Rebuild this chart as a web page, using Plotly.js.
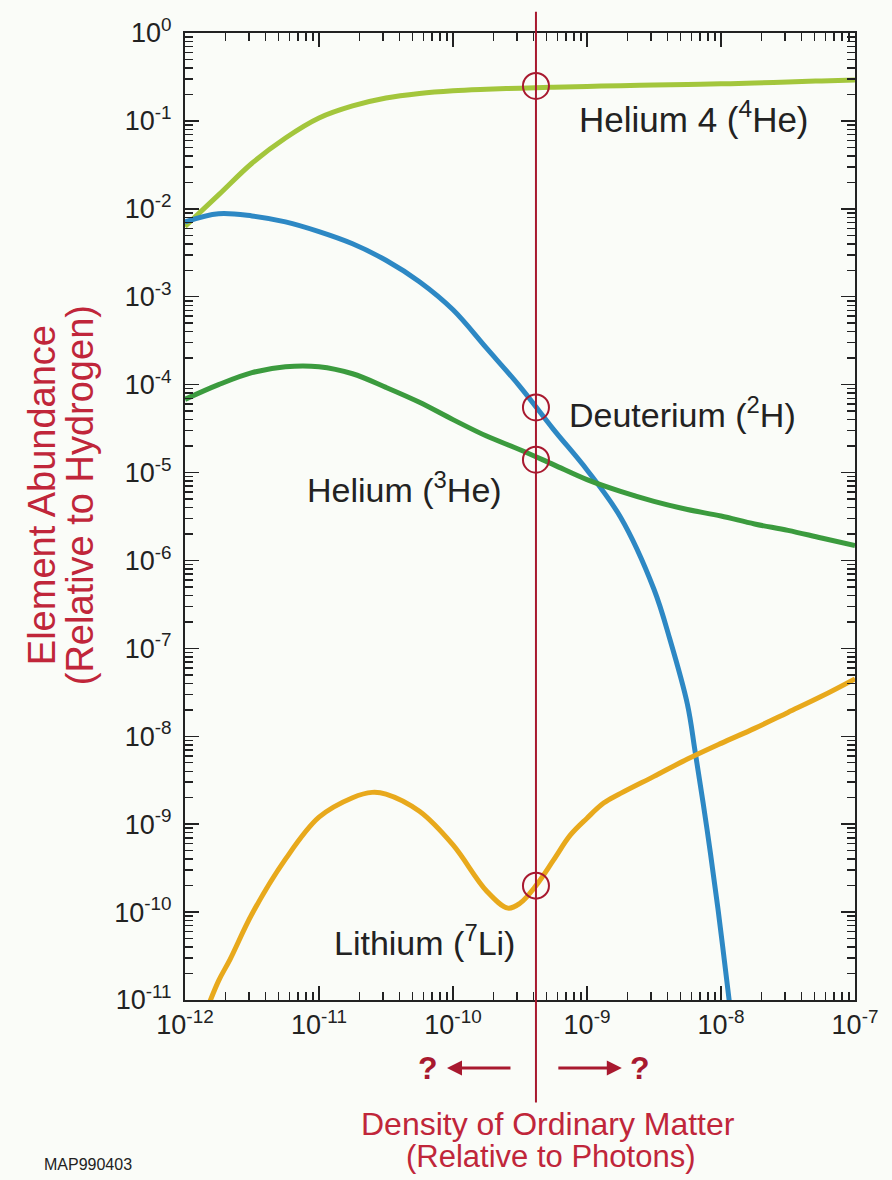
<!DOCTYPE html>
<html>
<head>
<meta charset="utf-8">
<script src="https://cdn.plot.ly/plotly-3.0.1.min.js"></script>
<style>
  html, body { margin: 0; padding: 0; background: #fafcf8; }
  #chart { width: 892px; height: 1180px; }
</style>
</head>
<body>
<div id="chart"></div>
<script>
// ---- Data ----
// Density of ordinary matter (relative to photons), x values
const gridX = [1e-12, 1.78e-12, 3.16e-12, 5.62e-12, 1e-11, 1.78e-11, 3.16e-11, 5.62e-11,
               1e-10, 1.78e-10, 3.16e-10, 5.62e-10, 1e-9, 1.78e-9, 3.16e-9, 5.62e-9,
               1e-8, 1.78e-8, 3.16e-8, 5.62e-8, 1e-7];

// Helium 4 abundance
const he4Y = [6.3e-3, 1.44e-2, 3.3e-2, 6.4e-2, 0.108, 0.148, 0.182, 0.205,
              0.22, 0.229, 0.236, 0.242, 0.247, 0.251, 0.256, 0.26,
              0.264, 0.27, 0.277, 0.285, 0.292];

// Helium 3 abundance
const he3Y = [6.8e-5, 1.0e-4, 1.37e-4, 1.6e-4, 1.6e-4, 1.33e-4, 9.3e-5, 6.3e-5,
              4.0e-5, 2.6e-5, 1.82e-5, 1.23e-5, 8.3e-6, 6.1e-6, 4.7e-6, 3.8e-6,
              3.2e-6, 2.6e-6, 2.2e-6, 1.8e-6, 1.48e-6];

// Deuterium
const dX = [1e-12, 1.78e-12, 3.16e-12, 5.62e-12, 1e-11, 1.78e-11, 3.16e-11, 5.62e-11,
            1e-10, 1.78e-10, 3.16e-10, 5.62e-10, 1e-9, 1.78e-9, 3.16e-9, 4.16e-9,
            5.62e-9, 6.4e-9, 7.87e-9, 9.5e-9, 1.15e-8, 1.25e-8];
const dY = [7.1e-3, 8.8e-3, 8.3e-3, 7.1e-3, 5.5e-3, 4.0e-3, 2.6e-3, 1.48e-3,
            7.1e-4, 2.6e-4, 9.5e-5, 3.1e-5, 1.07e-5, 3.1e-6, 4.7e-7, 1.26e-7,
            2.3e-8, 6.8e-9, 8.7e-10, 1.08e-10, 1.0e-11, 3.6e-12];

// Lithium 7
const liX = [1.41e-12, 1.78e-12, 2.17e-12, 3.16e-12, 5.62e-12, 1e-11, 1.78e-11, 2.49e-11,
             3.16e-11, 5.62e-11, 1e-10, 1.78e-10, 2.57e-10, 3.16e-10, 4.16e-10, 5.62e-10,
             7.5e-10, 1e-9, 1.33e-9, 1.78e-9, 3.16e-9, 5.62e-9, 1e-8, 1.78e-8, 3.16e-8,
             5.62e-8, 1e-7];
const liY = [6.9e-12, 1.65e-11, 2.9e-11, 9.5e-11, 4.0e-10, 1.2e-9, 2.0e-9, 2.3e-9,
             2.2e-9, 1.4e-9, 5.8e-10, 1.74e-10, 1.11e-10, 1.26e-10, 2.0e-10, 3.9e-10,
             7.5e-10, 1.17e-9, 1.74e-9, 2.24e-9, 3.5e-9, 5.5e-9, 8.3e-9, 1.23e-8, 1.87e-8,
             2.85e-8, 4.5e-8];

// Measured density and the circled abundances
const markedDensity = 4.16e-10;
const markedY = [0.25, 5.5e-5, 1.4e-5, 2.0e-10];

// Tick labels
const xTickVals = [1e-12, 1e-11, 1e-10, 1e-9, 1e-8, 1e-7];
const xTickText = ['10<sup>-12</sup>', '10<sup>-11</sup>', '10<sup>-10</sup>', '10<sup>-9</sup>', '10<sup>-8</sup>', '10<sup>-7</sup>'];
const yTickVals = [1, 1e-1, 1e-2, 1e-3, 1e-4, 1e-5, 1e-6, 1e-7, 1e-8, 1e-9, 1e-10, 1e-11];
const yTickText = ['10<sup>0</sup>', '10<sup>-1</sup>', '10<sup>-2</sup>', '10<sup>-3</sup>', '10<sup>-4</sup>', '10<sup>-5</sup>',
                   '10<sup>-6</sup>', '10<sup>-7</sup>', '10<sup>-8</sup>', '10<sup>-9</sup>', '10<sup>-10</sup>', '10<sup>-11</sup>'];

// ---- Styles ----
const FONT = 'Liberation Sans, Arial, Helvetica, sans-serif';
const RED = '#c0263a';
const DARKRED = '#a8192f';
const INK = '#222222';
const LW = 5;
const X_RANGE = [-12, -7];
const Y_RANGE = [-11, 0];

const traces = [
  { x: gridX, y: he4Y, mode: 'lines', line: { color: '#a3c63c', width: LW, shape: 'spline' }, name: 'He4' },
  { x: dX, y: dY, mode: 'lines', line: { color: '#2d88c4', width: LW, shape: 'spline' }, name: 'D' },
  { x: gridX, y: he3Y, mode: 'lines', line: { color: '#3b9b3e', width: LW, shape: 'spline' }, name: 'He3' },
  { x: liX, y: liY, mode: 'lines', line: { color: '#e8a91c', width: LW, shape: 'spline' }, name: 'Li7' },
  { x: markedY.map(() => markedDensity), y: markedY, mode: 'markers',
    marker: { symbol: 'circle-open', size: 26, color: DARKRED, line: { width: 2, color: DARKRED } },
    cliponaxis: false, name: 'marks' }
];

const axisCommon = {
  type: 'log',
  showgrid: false,
  zeroline: false,
  showline: true,
  linecolor: INK,
  linewidth: 2,
  mirror: 'ticks',
  ticks: 'inside',
  ticklen: 14,
  tickwidth: 1.5,
  tickcolor: INK,
  tickmode: 'array',
  tickfont: { family: FONT, size: 27, color: INK },
  minor: { ticks: 'inside', ticklen: 8, tickwidth: 1.5, tickcolor: INK, dtick: 'D1', showgrid: false }
};

// position of the marked density as a fraction of the plot width
const markFrac = (Math.log10(markedDensity) - X_RANGE[0]) / (X_RANGE[1] - X_RANGE[0]);

const layout = {
  width: 892,
  height: 1180,
  margin: { l: 185, r: 37, t: 33, b: 180 },
  paper_bgcolor: '#fafcf8',
  plot_bgcolor: '#fafcf8',
  showlegend: false,
  font: { family: FONT, color: INK },
  xaxis: Object.assign({}, axisCommon, {
    range: X_RANGE,
    tickvals: xTickVals,
    ticktext: xTickText
  }),
  yaxis: Object.assign({}, axisCommon, {
    range: Y_RANGE,
    tickvals: yTickVals,
    ticktext: yTickText,
    ticklabelstandoff: 6
  }),
  shapes: [
    { type: 'line', xref: 'paper', yref: 'paper', x0: markFrac, x1: markFrac,
      y0: 1.022, y1: -0.106, line: { color: DARKRED, width: 2 }, layer: 'above' }
  ],
  annotations: [
    { xref: 'paper', yref: 'paper', x: 0.7597, y: 0.913, text: 'Helium 4 (<sup>4</sup>He)', showarrow: false,
      font: { family: FONT, size: 35, color: INK }, xanchor: 'center', yanchor: 'middle' },
    { xref: 'paper', yref: 'paper', x: 0.743, y: 0.608, text: 'Deuterium (<sup>2</sup>H)', showarrow: false,
      font: { family: FONT, size: 34, color: INK }, xanchor: 'center', yanchor: 'middle' },
    { xref: 'paper', yref: 'paper', x: 0.327, y: 0.530, text: 'Helium (<sup>3</sup>He)', showarrow: false,
      font: { family: FONT, size: 34, color: INK }, xanchor: 'center', yanchor: 'middle' },
    { xref: 'paper', yref: 'paper', x: 0.358, y: 0.062, text: 'Lithium (<sup>7</sup>Li)', showarrow: false,
      font: { family: FONT, size: 34, color: INK }, xanchor: 'center', yanchor: 'middle' },
    // Axis titles
    { xref: 'paper', yref: 'paper', x: -0.2135, y: 0.522, text: 'Element Abundance', textangle: -90, showarrow: false,
      font: { family: FONT, size: 38, color: RED }, xanchor: 'center', yanchor: 'middle' },
    { xref: 'paper', yref: 'paper', x: -0.1567, y: 0.522, text: '(Relative to Hydrogen)', textangle: -90, showarrow: false,
      font: { family: FONT, size: 38, color: RED }, xanchor: 'center', yanchor: 'middle' },
    { xref: 'paper', yref: 'paper', x: 0.542, y: -0.128, text: 'Density of Ordinary Matter', showarrow: false,
      font: { family: FONT, size: 32, color: RED }, xanchor: 'center', yanchor: 'middle' },
    { xref: 'paper', yref: 'paper', x: 0.545, y: -0.1615, text: '(Relative to Photons)', showarrow: false,
      font: { family: FONT, size: 31, color: RED }, xanchor: 'center', yanchor: 'middle' },
    // Question marks and arrows
    { xref: 'paper', yref: 'paper', x: 0.3627, y: -0.0703, text: '<b>?</b>', showarrow: false,
      font: { family: FONT, size: 32, color: DARKRED }, xanchor: 'center', yanchor: 'middle' },
    { xref: 'paper', yref: 'paper', x: 0.679, y: -0.0703, text: '<b>?</b>', showarrow: false,
      font: { family: FONT, size: 32, color: DARKRED }, xanchor: 'center', yanchor: 'middle' },
    { xref: 'paper', yref: 'paper', x: 0.391, y: -0.0703, text: '', showarrow: true, ax: 65, ay: 0,
      arrowhead: 2, arrowsize: 1, arrowwidth: 3, arrowcolor: DARKRED },
    { xref: 'paper', yref: 'paper', x: 0.652, y: -0.0703, text: '', showarrow: true, ax: -65, ay: 0,
      arrowhead: 2, arrowsize: 1, arrowwidth: 3, arrowcolor: DARKRED },
    // Figure code
    { xref: 'paper', yref: 'paper', x: -0.1448, y: -0.1706, text: 'MAP990403', showarrow: false,
      font: { family: FONT, size: 16, color: INK }, xanchor: 'center', yanchor: 'middle' }
  ]
};

Plotly.newPlot('chart', traces, layout, { displayModeBar: false, staticPlot: true });
</script>
</body>
</html>
